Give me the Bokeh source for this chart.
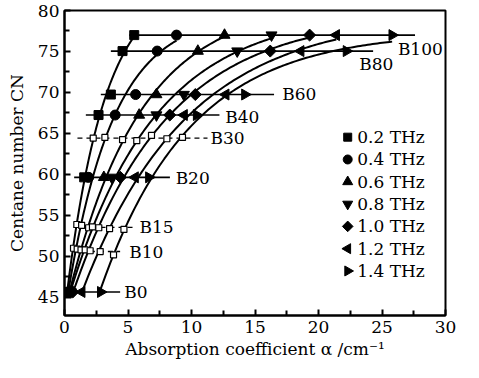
import numpy as np
from bokeh.plotting import figure
from bokeh.models import Range1d, FixedTicker
from bokeh.core.properties import value
from bokeh.embed import file_html
from bokeh.resources import INLINE

# ---------------- data ----------------
freqs = ["0.2 THz", "0.4 THz", "0.6 THz", "0.8 THz", "1.0 THz", "1.2 THz", "1.4 THz"]
marker_types = ["square", "circle", "triangle", "inverted_triangle", "square", "triangle", "triangle"]
marker_angles = [0, 0, 0, 0, np.pi / 4, np.pi / 2, -np.pi / 2]
marker_sizes = [9, 10, 11, 11, 8.5, 11, 11]

levels = ["B0", "B10", "B15", "B20", "B30", "B40", "B60", "B80", "B100"]
level_open = [False, True, True, False, True, False, False, False, False]

# absorption coefficient (cm^-1) for each blend, one value per frequency
x_B0 = [0.2, 0.3, 0.4, 0.5, 0.65, 1.36, 2.85]
x_B10 = [0.71, 1.0, 1.3, 1.63, 2.02, 2.81, 3.86]
x_B15 = [0.97, 1.35, 1.9, 2.2, 2.7, 3.55, 4.68]
x_B20 = [1.55, 1.9, 3.1, 3.72, 4.4, 5.56, 6.64]
x_B30 = [2.26, 3.18, 4.57, 5.69, 6.85, 8.06, 9.29]
x_B40 = [2.68, 3.99, 5.88, 7.24, 8.29, 9.42, 10.4]
x_B60 = [3.65, 5.6, 7.24, 9.4, 10.3, 12.7, 14.2]
x_B80 = [4.57, 7.3, 10.5, 13.6, 16.2, 18.6, 22.2]
x_B100 = [5.49, 8.82, 12.6, 16.3, 19.3, 21.4, 25.8]

# cetane number for each point
y_B0 = [45.67, 45.67, 45.67, 45.67, 45.67, 45.67, 45.67]
y_B10 = [51.0, 50.9, 50.8, 50.8, 50.7, 50.6, 50.2]
y_B15 = [53.9, 53.8, 53.5, 53.6, 53.5, 53.4, 53.3]
y_B20 = [59.65, 59.65, 59.65, 59.65, 59.65, 59.65, 59.65]
y_B30 = [64.44, 64.52, 64.24, 64.12, 64.76, 64.36, 64.52]
y_B40 = [67.25, 67.25, 67.25, 67.25, 67.25, 67.25, 67.25]
y_B60 = [69.75, 69.75, 69.75, 69.75, 69.75, 69.75, 69.75]
y_B80 = [75.05, 75.05, 75.05, 75.05, 75.05, 75.05, 75.05]
y_B100 = [77.0, 77.0, 77.0, 77.0, 77.0, 77.0, 77.0]

# horizontal reference lines for each blend
line_y = [45.67, 50.6, 53.55, 59.65, 64.44, 67.25, 69.75, 75.05, 77.0]
line_x0 = [0.0, 0.58, 0.71, 0.76, 1.02, 1.68, 2.86, 3.65, 5.1]
line_x1 = [4.38, 4.38, 5.49, 8.3, 11.26, 12.2, 16.5, 24.3, 27.6]

# blend labels
label_x = [4.7, 5.1, 5.9, 8.75, 11.5, 12.65, 17.15, 23.2, 26.25]
label_y = [45.67, 50.6, 53.6, 59.6, 64.5, 67.0, 69.8, 73.5, 75.3]

x_ticks = [0, 5, 10, 15, 20, 25, 30]
y_ticks = [45, 50, 55, 60, 65, 70, 75, 80]

level_x = [x_B0, x_B10, x_B15, x_B20, x_B30, x_B40, x_B60, x_B80, x_B100]
level_yv = [y_B0, y_B10, y_B15, y_B20, y_B30, y_B40, y_B60, y_B80, y_B100]

# legend placement (data units)
legend_x = 22.3
legend_top = 64.55
legend_step = 2.72

FONT = "DejaVu Serif"
FS = "17px"

p = figure(width=463, height=362, output_backend="svg", toolbar_location=None,
           x_range=Range1d(0, 30), y_range=Range1d(42.8, 80),
           min_border_left=64, min_border_right=18, min_border_top=10, min_border_bottom=47,
           background_fill_color="white", border_fill_color="white")
p.grid.visible = False
p.outline_line_color = "black"
p.outline_line_width = 2

for ax in (p.xaxis[0], p.yaxis[0]):
    ax.axis_line_width = 2
    ax.axis_line_color = "black"
    ax.major_tick_in = 6
    ax.major_tick_out = 0
    ax.minor_tick_in = 5
    ax.minor_tick_out = 0
    ax.major_tick_line_width = 2
    ax.minor_tick_line_width = 2
    ax.major_tick_line_color = "black"
    ax.minor_tick_line_color = "black"
    ax.major_label_text_font = FONT
    ax.major_label_text_font_size = FS
    ax.major_label_text_color = "black"
    ax.axis_label_text_font = FONT
    ax.axis_label_text_font_size = FS
    ax.axis_label_text_font_style = "normal"
    ax.axis_label_text_color = "black"
    ax.major_label_standoff = 5

p.xaxis.ticker = FixedTicker(ticks=x_ticks, minor_ticks=[t + 2.5 for t in x_ticks[:-1]])
p.yaxis.ticker = FixedTicker(ticks=y_ticks, minor_ticks=[t + 2.5 for t in y_ticks[:-1]])
p.xaxis.axis_label = "Absorption coefficient α /cm⁻¹"
p.yaxis.axis_label = "Centane number CN"
p.xaxis.axis_label_standoff = 3
p.yaxis.axis_label_standoff = 8

# horizontal blend lines
solid_idx = [i for i, o in enumerate(level_open) if not o]
open_idx = [i for i, o in enumerate(level_open) if o]
p.segment(x0=[line_x0[i] for i in solid_idx], y0=[line_y[i] for i in solid_idx],
          x1=[line_x1[i] for i in solid_idx], y1=[line_y[i] for i in solid_idx],
          line_color="black", line_width=1.6)
p.segment(x0=[line_x0[i] for i in open_idx], y0=[line_y[i] for i in open_idx],
          x1=[line_x1[i] for i in open_idx], y1=[line_y[i] for i in open_idx],
          line_color="black", line_width=1.4, line_dash="5 4")

# fitted curves per frequency: y = A - B*exp(-k x)
for j in range(len(freqs)):
    xs = np.array([lx[j] for lx in level_x])
    ys = np.array([ly[j] for ly in level_yv])
    best = None
    for k in np.linspace(0.005, 3.0, 600) / xs.max() * 5:
        M = np.column_stack([np.ones_like(xs), -np.exp(-k * xs)])
        coef, res, *_ = np.linalg.lstsq(M, ys, rcond=None)
        r = np.sum((M @ coef - ys) ** 2)
        if best is None or r < best[0]:
            best = (r, k, coef)
    _, k, (A, B) = best
    xx = np.linspace(xs.min(), xs.max(), 120)
    p.line(xx, A - B * np.exp(-k * xx), line_color="black", line_width=2)

# open squares (B10, B15, B30)
ox = [level_x[i][j] for i in open_idx for j in range(len(freqs))]
oy = [level_yv[i][j] for i in open_idx for j in range(len(freqs))]
p.scatter(ox, oy, marker="square", size=6, fill_color="white", line_color="black", line_width=1.2)

# solid markers per frequency + legend keys
for j, f in enumerate(freqs):
    sx = [level_x[i][j] for i in solid_idx]
    sy = [level_yv[i][j] for i in solid_idx]
    p.scatter(sx, sy, marker=marker_types[j], angle=marker_angles[j], size=marker_sizes[j],
              fill_color="black", line_color="black")
    ly = legend_top - j * legend_step
    p.scatter([legend_x], [ly], marker=marker_types[j], angle=marker_angles[j],
              size=marker_sizes[j] - 1, fill_color="black", line_color="black")
    p.text(x=[legend_x + 0.75], y=[ly], text=[f], text_font=value(FONT), text_font_size=FS,
           text_baseline="middle", text_align="left", text_color="black")

# blend labels
p.text(x=label_x, y=label_y, text=levels, text_font=value(FONT), text_font_size=FS,
       text_baseline="middle", text_align="left", text_color="black")

open("out.html", "w").write(file_html(p, INLINE))
